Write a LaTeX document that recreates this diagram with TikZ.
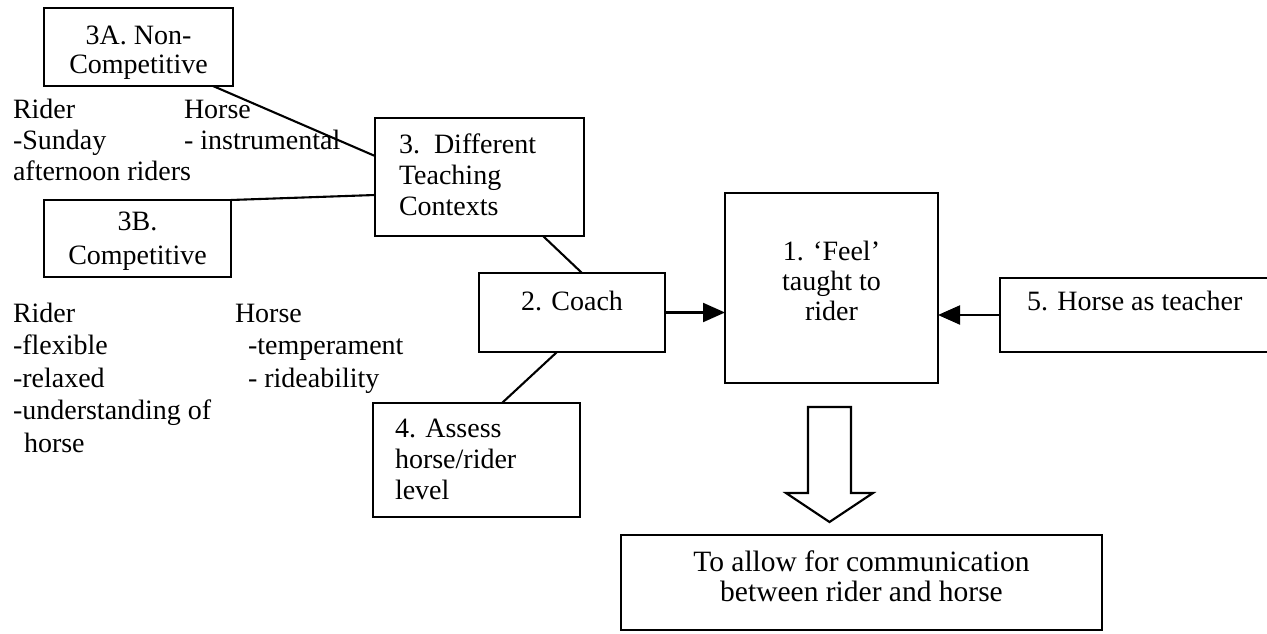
\documentclass[tikz,border=0pt]{standalone}
\usepackage{fontspec}
\setmainfont{Liberation Serif}
\usetikzlibrary{arrows.meta,calc}
% fixed-height opener so that multi-line labels can be placed by their first baseline
\newcommand\firstline{\rule{0pt}{20pt}}
\begin{document}
\lineskiplimit=-50pt
\begin{tikzpicture}[x=1pt,y=-1pt,
  box/.style={draw, line width=2.1pt, inner sep=0pt, outer sep=0pt, anchor=north west},
  txt/.style={inner sep=0pt, outer sep=0pt, font=\fontsize{28}{31}\selectfont},
  tight/.style={font=\fontsize{28}{30}\selectfont},
  wide/.style={font=\fontsize{29.5}{30}\selectfont},
  link/.style={line width=2.1pt},
  feed/.style={line width=2.1pt, -{Triangle[length=22pt,width=19pt]}},
]
\useasboundingbox[fill=white] (0,0) rectangle (1267,634);

% boxes
\node[box, minimum width=189pt, minimum height=78pt]  (b3a)  at (44,8)    {};
\node[box, minimum width=187pt, minimum height=77pt]  (b3b)  at (44,200)  {};
\node[box, minimum width=209pt, minimum height=118pt] (b3)   at (375,118) {};
\node[box, minimum width=186pt, minimum height=79pt]  (b2)   at (479,273) {};
\node[box, minimum width=213pt, minimum height=190pt] (b1)   at (725,193) {};
\node[box, minimum width=300pt, minimum height=74pt]  (b5)   at (1000,278) {};
\node[box, minimum width=207pt, minimum height=114pt] (b4)   at (373,403) {};
\node[box, minimum width=481pt, minimum height=95pt]  (bout) at (621,535) {};

% box labels
\node[txt, anchor=north, align=center] (t3a) at (138.5,25) {\firstline 3A. Non-\\[-2pt]Competitive};
\node[txt, anchor=north, align=center] (t3b) at (137.5,210) {\firstline 3B.\\[3pt]Competitive};
\node[txt, anchor=north west, align=left] (t3) at (399,133) {\firstline 3.\enspace Different\\Teaching\\Contexts};
\node[txt, anchor=base] (t2) at (572,310) {2. Coach};
\node[txt, tight, anchor=north, align=center] (t1) at (831.5,240) {\firstline 1. ‘Feel’\\taught to\\rider};
\node[txt, anchor=base west] (t5) at (1027,310) {5. Horse as teacher};
\node[txt, anchor=north west, align=left] (t4) at (395,417) {\firstline 4. Assess\\horse/rider\\level};
\node[txt, wide, anchor=north, align=center] (tout) at (861.5,551) {\firstline To allow for communication\\between rider and horse};

% free-standing notes
\node[txt, anchor=north west, align=left] (ncrider) at (13,98) {\firstline Rider\\-Sunday\\afternoon riders};
\node[txt, anchor=north west, align=left] (nchorse) at (184,98) {\firstline Horse\\- instrumental};
\node[txt, anchor=north west, align=left] (crider) at (13,302)
  {\firstline Rider\\[1.5pt]-flexible\\[1.5pt]-relaxed\\[1.5pt]-understanding of\\[1.5pt]\hspace*{11pt}horse};
\node[txt, anchor=north west, align=left] (chorse) at (235,302)
  {\firstline Horse\\[1.5pt]\hspace*{13pt}-temperament\\[1.5pt]\hspace*{13pt}- rideability};

% plain links
\draw[link] ($(b3a.south east)+(-20,0)$) -- ($(b3.north west)+(0,38)$);
\draw[link] (b3b.north east) -- ($(b3.north west)+(0,77)$);
\draw[link] ($(b3.south west)+(168,0)$) -- ($(b2.north west)+(103,0)$);
\draw[link] ($(b2.south west)+(78,0)$) -- ($(b4.north west)+(129,0)$);

% arrows into the central box
\draw[feed] (b2.east) -- (b2.east -| b1.west);
\draw[feed] (b5.west) -- (b5.west -| b1.east);

% hollow block arrow down to the outcome
\draw[link, line join=miter]
  (808,407) -- (851,407) -- (851,493) -- (873,493) -- (829.5,522)
  -- (786,493) -- (808,493) -- cycle;
\end{tikzpicture}
\end{document}
